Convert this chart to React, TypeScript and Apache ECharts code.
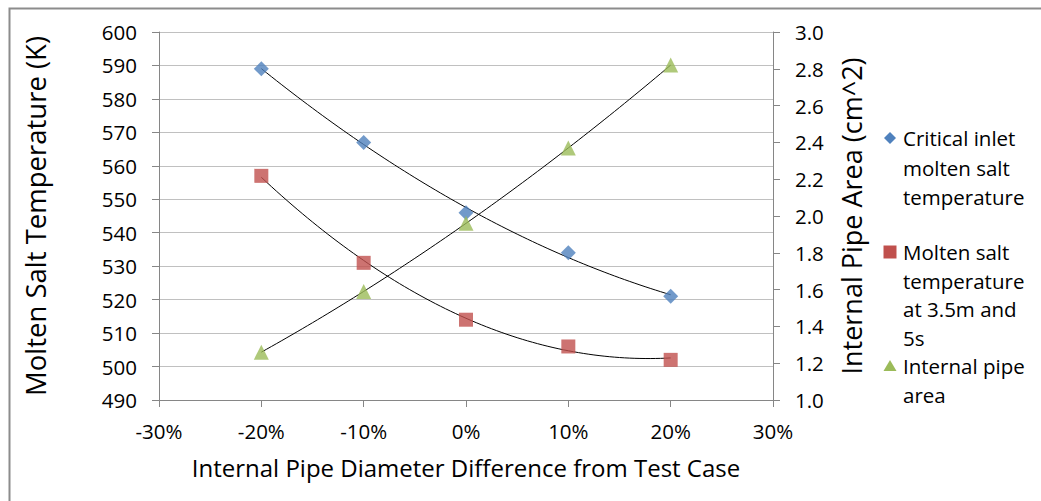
import React, { useEffect, useRef } from "react";
import * as echarts from "echarts";

const diameterDiff = [-20, -10, 0, 10, 20];
const criticalInletTemp = [589, 567, 546, 534, 521];
const saltTempAt35m5s = [557, 531, 514, 506, 502];
const internalPipeArea = [1.26, 1.59, 1.96, 2.37, 2.82];

const seriesNames = [
  "Critical inlet molten salt temperature",
  "Molten salt temperature at 3.5m and 5s",
  "Internal pipe area",
];
const legendLines = [
  ["Critical inlet", "molten salt", "temperature"],
  ["Molten salt", "temperature", "at 3.5m and", "5s"],
  ["Internal pipe", "area"],
];
const seriesColors = ["#4F81BD", "#C0504D", "#9BBB59"];

// quadratic least-squares trendline (as the spreadsheet's polynomial trendline)
function quadFit(xs: number[], ys: number[]) {
  const n = xs.length;
  let sx = 0, sx2 = 0, sx3 = 0, sx4 = 0, sy = 0, sxy = 0, sx2y = 0;
  for (let i = 0; i < n; i++) {
    const x = xs[i], y = ys[i];
    sx += x; sx2 += x * x; sx3 += x * x * x; sx4 += x * x * x * x;
    sy += y; sxy += x * y; sx2y += x * x * y;
  }
  const M = [
    [n, sx, sx2, sy],
    [sx, sx2, sx3, sxy],
    [sx2, sx3, sx4, sx2y],
  ];
  for (let c = 0; c < 3; c++) {
    let p = c;
    for (let r = c + 1; r < 3; r++) if (Math.abs(M[r][c]) > Math.abs(M[p][c])) p = r;
    [M[c], M[p]] = [M[p], M[c]];
    for (let r = 0; r < 3; r++) {
      if (r === c) continue;
      const f = M[r][c] / M[c][c];
      for (let k = c; k < 4; k++) M[r][k] -= f * M[c][k];
    }
  }
  const a = M[0][3] / M[0][0], b = M[1][3] / M[1][1], q = M[2][3] / M[2][2];
  const pts: number[][] = [];
  const x0 = xs[0], x1 = xs[n - 1];
  for (let k = 0; k <= 80; k++) {
    const x = x0 + ((x1 - x0) * k) / 80;
    pts.push([x, a + b * x + q * x * x]);
  }
  return pts;
}

const FONT = "Open Sans";

export default function App() {
  const ref = useRef<HTMLDivElement>(null);
  useEffect(() => {
    if (!ref.current) return;
    const chart = echarts.init(ref.current, null, { renderer: "svg" });
    const pair = (ys: number[]) => diameterDiff.map((x, i) => [x, ys[i]]);
    const legendX = 890;
    const legendTextX = 903;
    const legendFirstY = [138, 252, 366];
    const legendLineGap = [29.5, 28.7, 29];

    const iconFor = (i: number, cy: number) => {
      const c = seriesColors[i];
      if (i === 0)
        return {
          type: "polygon",
          shape: { points: [[legendX, cy - 6], [legendX + 6, cy], [legendX, cy + 6], [legendX - 6, cy]] },
          style: { fill: c },
          silent: true,
        };
      if (i === 1)
        return {
          type: "rect",
          shape: { x: legendX - 6.5, y: cy - 6.5, width: 13, height: 13 },
          style: { fill: c },
          silent: true,
        };
      return {
        type: "polygon",
        shape: { points: [[legendX, cy - 6], [legendX + 6.5, cy + 5], [legendX - 6.5, cy + 5]] },
        style: { fill: c },
        silent: true,
      };
    };

    const legendGraphics: any[] = [];
    legendLines.forEach((lines, i) => {
      const cy = legendFirstY[i];
      legendGraphics.push(iconFor(i, cy));
      lines.forEach((line, j) => {
        legendGraphics.push({
          type: "text",
          x: legendTextX,
          y: cy + j * legendLineGap[i],
          silent: true,
          style: {
            text: line,
            fontFamily: FONT,
            fontSize: 20.5,
            lineHeight: 22,
            fill: "#000",
            verticalAlign: "middle",
            align: "left",
          },
        });
      });
    });

    const trendStyle = {
      type: "line",
      showSymbol: false,
      symbol: "none",
      silent: true,
      lineStyle: { color: "#000", width: 1 },
      z: 1,
    };
    chart.setOption({
      animation: false,
      textStyle: { fontFamily: FONT },
      grid: { left: 159, right: 268, top: 32, bottom: 101 },
      xAxis: {
        type: "value",
        min: -30,
        max: 30,
        interval: 10,
        name: "Internal Pipe Diameter Difference from Test Case",
        nameLocation: "middle",
        nameGap: 55,
        nameTextStyle: { fontFamily: FONT, fontSize: 24, color: "#000" },
        axisLine: { show: true, onZero: false, lineStyle: { color: "#868686", width: 1 } },
        axisTick: { show: true, length: 7, lineStyle: { color: "#868686" } },
        axisLabel: { formatter: (v: number) => v + "%", fontFamily: FONT, fontSize: 20.5, color: "#000", margin: 20 },
        splitLine: { show: false },
      },
      yAxis: [
        {
          type: "value",
          min: 490,
          max: 600,
          interval: 10,
          name: "Molten Salt Temperature (K)",
          nameLocation: "middle",
          nameRotate: 90,
          nameGap: 110,
          nameTextStyle: { fontFamily: FONT, fontSize: 27.5, color: "#000" },
          axisLine: { show: true, onZero: false, lineStyle: { color: "#868686", width: 1 } },
          axisTick: { show: true, length: 7, lineStyle: { color: "#868686" } },
          axisLabel: { fontFamily: FONT, fontSize: 20.5, color: "#000", margin: 22 },
          splitLine: { show: true, lineStyle: { color: "#c0c0c0", width: 1 } },
        },
        {
          type: "value",
          min: 1.0,
          max: 3.0,
          interval: 0.2,
          position: "right",
          name: "Internal Pipe Area (cm^2)",
          nameLocation: "middle",
          nameRotate: 90,
          nameGap: 65,
          nameTextStyle: { fontFamily: FONT, fontSize: 27, color: "#000" },
          axisLine: { show: true, onZero: false, lineStyle: { color: "#868686", width: 1 } },
          axisTick: { show: true, length: 7, lineStyle: { color: "#868686" } },
          axisLabel: { formatter: (v: number) => v.toFixed(1), fontFamily: FONT, fontSize: 20.5, color: "#000", margin: 22 },
          splitLine: { show: false },
        },
      ],
      series: [
        { ...trendStyle, name: "trend-critical", yAxisIndex: 0, data: quadFit(diameterDiff, criticalInletTemp) },
        { ...trendStyle, name: "trend-salt", yAxisIndex: 0, data: quadFit(diameterDiff, saltTempAt35m5s) },
        { ...trendStyle, name: "trend-area", yAxisIndex: 1, data: quadFit(diameterDiff, internalPipeArea) },
        {
          name: seriesNames[0],
          type: "scatter",
          yAxisIndex: 0,
          symbol: "diamond",
          symbolSize: 15,
          itemStyle: { color: seriesColors[0] },
          data: pair(criticalInletTemp),
          z: 3,
        },
        {
          name: seriesNames[1],
          type: "scatter",
          yAxisIndex: 0,
          symbol: "rect",
          symbolSize: 14,
          itemStyle: { color: seriesColors[1] },
          data: pair(saltTempAt35m5s),
          z: 3,
        },
        {
          name: seriesNames[2],
          type: "scatter",
          yAxisIndex: 1,
          symbol: "triangle",
          symbolSize: 15,
          itemStyle: { color: seriesColors[2] },
          data: pair(internalPipeArea),
          z: 3,
        },
      ],
      graphic: [
        {
          type: "rect",
          left: 7,
          top: 6,
          shape: { width: 1100, height: 600 },
          style: { fill: "none", stroke: "#8c8c8c", lineWidth: 2 },
          silent: true,
        },
        ...legendGraphics,
      ],
    });
    return () => chart.dispose();
  }, []);
  return (
    <div
      ref={ref}
      style={{ position: "fixed", left: 0, top: 0, width: 1041, height: 501, background: "#fff" }}
    />
  );
}
